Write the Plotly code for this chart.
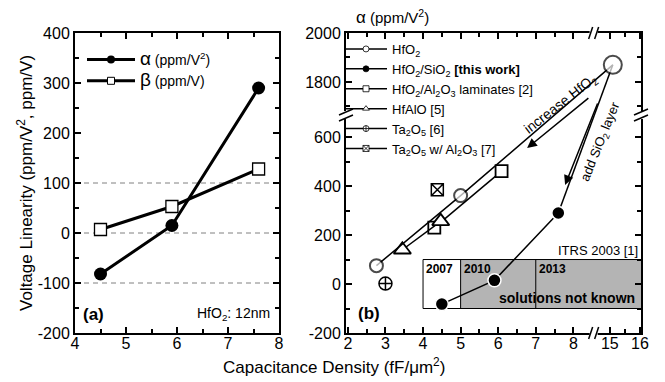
import plotly.graph_objects as go

# ---------------- data ----------------
# panel (a): HfO2 (12 nm) MIM capacitors
cap_density = [4.5, 5.9, 7.6]          # fF/um^2
alpha_vals = [-82, 15, 290]            # ppm/V^2
beta_vals = [7, 53, 128]               # ppm/V

# panel (b): alpha of various dielectrics
hfo2_x = [2.76, 5.0, 15.1]
hfo2_y = [75, 361, 1870]
lam_x = [4.3, 6.09]
lam_y = [230, 461]
hfalo_x = [3.45, 4.47]
hfalo_y = [140, 256]
ta2o5_x = [3.0]
ta2o5_y = [2]
ta2o5al_x = [4.38]
ta2o5al_y = [385]

# ticks
a_xticks = [4, 5, 6, 7, 8]
a_yticks = [-200, -100, 0, 100, 200, 300, 400]
grid_levels = [-100, 0, 100]
b_xticks = [2, 3, 4, 5, 6, 7, 8, 15, 16]
b_xminor = [2.5, 3.5, 4.5, 5.5, 6.5, 7.5, 15.5]
b_yticks = [-200, 0, 200, 400, 600, 1800, 2000]
b_yminor = [-100, 100, 300, 500, 1700, 1900]

# ITRS 2003 roadmap inset
itrs_years = ["2007", "2010", "2013"]
itrs_start = [4, 5, 7]
itrs_band = [-100, 100]


# ---------------- broken axis mapping for panel (b) ----------------
X_BREAK = 8.54
Y_BREAK = 690


def tx(v):
    return v if v < 10 else 8.97 + (v - 15.0) * 0.8


def ty(v):
    return v if v < 1000 else Y_BREAK + (v - 1665)


def txs(a):
    return [tx(v) for v in a]


def tys(a):
    return [ty(v) for v in a]


FONT = "Arial, Liberation Sans, sans-serif"
BLACK = "black"

fig = go.Figure()

# ---------- panel (a) ----------
fig.add_trace(go.Scatter(x=cap_density, y=alpha_vals, mode="lines+markers",
                         line=dict(color=BLACK, width=3),
                         marker=dict(symbol="circle", size=13, color=BLACK),
                         showlegend=False, xaxis="x", yaxis="y"))
fig.add_trace(go.Scatter(x=cap_density, y=beta_vals, mode="lines+markers",
                         line=dict(color=BLACK, width=3),
                         marker=dict(symbol="square", size=12, color="white",
                                     line=dict(color=BLACK, width=1.3)),
                         showlegend=False, xaxis="x", yaxis="y"))
# legend entries (a)
fig.add_trace(go.Scatter(x=[None], y=[None], mode="lines+markers",
                         name='<span style="font-size:19px">α</span> (ppm/V<sup>2</sup>)',
                         line=dict(color=BLACK, width=3),
                         marker=dict(symbol="circle", size=8, color=BLACK),
                         legend="legend", xaxis="x", yaxis="y"))
fig.add_trace(go.Scatter(x=[None], y=[None], mode="lines+markers",
                         name='<span style="font-size:19px">β</span> (ppm/V)',
                         line=dict(color=BLACK, width=3),
                         marker=dict(symbol="square", size=7, color="white",
                                     line=dict(color=BLACK, width=1)),
                         legend="legend", xaxis="x", yaxis="y"))

# ---------- panel (b) ----------
LW = 1.5
# connector HfO2 -> HfO2/SiO2
fig.add_trace(go.Scatter(x=txs([hfo2_x[-1], cap_density[-1]]), y=tys([hfo2_y[-1], alpha_vals[-1]]),
                         mode="lines", line=dict(color=BLACK, width=LW),
                         showlegend=False, xaxis="x2", yaxis="y2"))
fig.add_trace(go.Scatter(x=txs(cap_density), y=tys(alpha_vals), mode="lines+markers",
                         line=dict(color=BLACK, width=LW),
                         marker=dict(symbol="circle", size=13, color=BLACK,
                                     line=dict(color="white", width=1.5)),
                         showlegend=False, xaxis="x2", yaxis="y2"))
fig.add_trace(go.Scatter(x=txs(lam_x), y=tys(lam_y), mode="lines+markers",
                         line=dict(color=BLACK, width=LW),
                         marker=dict(symbol="square", size=12, color="white",
                                     line=dict(color=BLACK, width=1.8)),
                         showlegend=False, xaxis="x2", yaxis="y2"))
fig.add_trace(go.Scatter(x=txs(hfalo_x), y=tys(hfalo_y), mode="lines+markers",
                         line=dict(color=BLACK, width=LW),
                         marker=dict(symbol="triangle-up", size=15, color="white",
                                     line=dict(color=BLACK, width=1.8)),
                         showlegend=False, xaxis="x2", yaxis="y2"))
fig.add_trace(go.Scatter(x=txs(hfo2_x), y=tys(hfo2_y), mode="lines+markers",
                         line=dict(color=BLACK, width=LW),
                         marker=dict(symbol="circle", size=[13, 13, 18], color="white",
                                     line=dict(color=BLACK, width=2)),
                         showlegend=False, xaxis="x2", yaxis="y2"))
fig.add_trace(go.Scatter(x=txs(ta2o5_x), y=tys(ta2o5_y), mode="markers",
                         marker=dict(symbol="circle-cross", size=13, color="white",
                                     line=dict(color=BLACK, width=1.5)),
                         showlegend=False, xaxis="x2", yaxis="y2"))
fig.add_trace(go.Scatter(x=txs(ta2o5al_x), y=tys(ta2o5al_y), mode="markers",
                         marker=dict(symbol="square-x", size=12, color="white",
                                     line=dict(color=BLACK, width=1.5)),
                         showlegend=False, xaxis="x2", yaxis="y2"))

# legend entries (b)
leg_b = [
    ("HfO<sub>2</sub>", "circle", "white"),
    ("HfO<sub>2</sub>/SiO<sub>2</sub> <b>[this work]</b>", "circle", BLACK),
    ("HfO<sub>2</sub>/Al<sub>2</sub>O<sub>3</sub> laminates [2]", "square", "white"),
    ("HfAlO [5]", "triangle-up", "white"),
    ("Ta<sub>2</sub>O<sub>5</sub> [6]", "circle-cross", "white"),
    ("Ta<sub>2</sub>O<sub>5</sub> w/ Al<sub>2</sub>O<sub>3</sub> [7]", "square-x", "white"),
]
for name, sym, col in leg_b:
    fig.add_trace(go.Scatter(x=[None], y=[None], mode="lines+markers", name=name,
                             line=dict(color=BLACK, width=1.5),
                             marker=dict(symbol=sym, size=6, color=col,
                                         line=dict(color=BLACK, width=0.8)),
                             legend="legend2", xaxis="x2", yaxis="y2"))

# ---------------- axes ----------------
W, H = 665, 382
ydom = [1 - 333 / H, 1 - 33 / H]
axis_common = dict(showline=True, linewidth=2, linecolor=BLACK, mirror="ticks",
                   ticks="inside", ticklen=6, tickwidth=1.5, tickcolor=BLACK,
                   showgrid=False, zeroline=False,
                   tickfont=dict(family=FONT, size=16, color=BLACK))
xtick_std = dict(ticklabelstandoff=-5)

fig.update_layout(
    xaxis=dict(domain=[75 / W, 279 / W], range=[4, 8], tickvals=a_xticks,
               ticktext=[str(v) for v in a_xticks],
               minor=dict(dtick=0.5, ticks="inside", ticklen=4, tickcolor=BLACK, tickwidth=1.5),
               anchor="y", **axis_common, **xtick_std),
    yaxis=dict(domain=ydom, range=[-200, 400], tickvals=a_yticks,
               ticktext=[str(v) for v in a_yticks],
               minor=dict(dtick=50, ticks="inside", ticklen=4, tickcolor=BLACK, tickwidth=1.5),
               anchor="x", **axis_common),
    xaxis2=dict(domain=[346 / W, 641 / W], range=[1.95, 9.8], tickvals=txs(b_xticks),
                ticktext=[str(v) for v in b_xticks],
                minor=dict(tickvals=txs(b_xminor), ticks="inside", ticklen=4, tickcolor=BLACK, tickwidth=1.5),
                anchor="y2", **axis_common, **xtick_std),
    yaxis2=dict(domain=ydom, range=[-200, ty(2000)], tickvals=tys(b_yticks),
                ticktext=[str(v) for v in b_yticks],
                minor=dict(tickvals=tys(b_yminor), ticks="inside", ticklen=4, tickcolor=BLACK, tickwidth=1.5),
                anchor="x2", **axis_common),
)

# ---------------- shapes ----------------
shapes = []
for lv in grid_levels:
    shapes.append(dict(type="line", xref="x domain", x0=0, x1=1, yref="y", y0=lv, y1=lv,
                       line=dict(color="#808080", width=1, dash="5px,4px"), layer="below"))

# ITRS inset
box_top, box_bot = itrs_band[1], itrs_band[0]
shapes.append(dict(type="rect", xref="x2", x0=itrs_start[1], x1=tx(16) + 0.1, yref="y2",
                   y0=box_bot, y1=box_top, fillcolor="#b4b4b4", line=dict(width=0), layer="below"))
shapes.append(dict(type="rect", xref="x2", x0=itrs_start[0], x1=tx(16) + 0.1, yref="y2",
                   y0=box_bot, y1=box_top, fillcolor="rgba(0,0,0,0)",
                   line=dict(color=BLACK, width=1), layer="below"))
for xs in itrs_start[1:]:
    shapes.append(dict(type="line", xref="x2", x0=xs, x1=xs, yref="y2", y0=box_bot, y1=box_top,
                       line=dict(color=BLACK, width=1), layer="below"))


# axis break marks
def xbreak(yanchor):
    out = [dict(type="rect", xref="x2", xsizemode="pixel", xanchor=X_BREAK, x0=-4, x1=4,
                yref="y2 domain", ysizemode="pixel", yanchor=yanchor, y0=-2, y1=2,
                fillcolor="white", line=dict(width=0), layer="above")]
    for off in (-3, 3):
        out.append(dict(type="line", xref="x2", xsizemode="pixel", xanchor=X_BREAK,
                        x0=off - 2, x1=off + 2, yref="y2 domain", ysizemode="pixel",
                        yanchor=yanchor, y0=-6, y1=6, line=dict(color=BLACK, width=1.5),
                        layer="above"))
    return out


def ybreak(xanchor):
    out = [dict(type="rect", xref="x2 domain", xsizemode="pixel", xanchor=xanchor, x0=-2, x1=2,
                yref="y2", ysizemode="pixel", yanchor=Y_BREAK, y0=-4, y1=4,
                fillcolor="white", line=dict(width=0), layer="above")]
    for off in (-3, 3):
        out.append(dict(type="line", xref="x2 domain", xsizemode="pixel", xanchor=xanchor,
                        x0=-7, x1=7, yref="y2", ysizemode="pixel",
                        yanchor=Y_BREAK, y0=off - 3, y1=off + 3, line=dict(color=BLACK, width=1.5),
                        layer="above"))
    return out


shapes += xbreak(0) + xbreak(1) + ybreak(0) + ybreak(1)

# ---------------- annotations ----------------
ann = []
ann.append(dict(text="Voltage Linearity (ppm/V<sup>2</sup>, ppm/V)", xref="paper", yref="paper",
                x=25 / W, y=1 - 183 / H, xanchor="center", yanchor="middle", textangle=-90,
                showarrow=False, font=dict(family=FONT, size=17, color=BLACK)))
ann.append(dict(text="Capacitance Density (fF/μm<sup>2</sup>)", xref="paper", yref="paper",
                x=334 / W, y=1 - 366 / H, xanchor="center", yanchor="middle", showarrow=False,
                font=dict(family=FONT, size=17, color=BLACK)))
ann.append(dict(text="<b>(a)</b>", xref="paper", yref="paper", x=81 / W, y=1 - 314 / H,
                xanchor="left", yanchor="middle", showarrow=False,
                font=dict(family=FONT, size=17, color=BLACK)))
ann.append(dict(text="HfO<sub>2</sub>: 12nm", xref="paper", yref="paper", x=272 / W, y=1 - 314 / H,
                xanchor="right", yanchor="middle", showarrow=False,
                font=dict(family=FONT, size=14, color=BLACK)))
ann.append(dict(text="<b>(b)</b>", xref="paper", yref="paper", x=356 / W, y=1 - 313 / H,
                xanchor="left", yanchor="middle", showarrow=False,
                font=dict(family=FONT, size=17, color=BLACK)))
ann.append(dict(text='<span style="font-size:17px">α</span> (ppm/V<sup>2</sup>)', xref="paper",
                yref="paper", x=354 / W, y=1 - 17 / H, xanchor="left", yanchor="middle",
                showarrow=False, font=dict(family=FONT, size=15, color=BLACK)))
ann.append(dict(text="ITRS 2003 [1]", xref="x2 domain", yref="y2", x=0.995, y=box_top,
                xanchor="right", yanchor="bottom", showarrow=False,
                font=dict(family=FONT, size=13, color=BLACK)))
for yr, xs in zip(itrs_years, itrs_start):
    ann.append(dict(text="<b>%s</b>" % yr, xref="x2", yref="y2", x=xs, y=box_top,
                    xanchor="left", yanchor="top", showarrow=False, xshift=1,
                    font=dict(family=FONT, size=12, color=BLACK)))
ann.append(dict(text="<b>solutions not known</b>", xref="x2 domain", yref="y2", x=0.985, y=-57,
                xanchor="right", yanchor="middle", showarrow=False,
                font=dict(family=FONT, size=14, color=BLACK)))
# arrows
ann.append(dict(x=6.77, y=555, ax=8.44, ay=764, xref="x2", yref="y2", axref="x2", ayref="y2",
                text="", showarrow=True, arrowhead=2, arrowsize=1.3, arrowwidth=1.5, arrowcolor=BLACK))
ann.append(dict(x=7.78, y=404, ax=8.66, ay=743, xref="x2", yref="y2", axref="x2", ayref="y2",
                text="", showarrow=True, arrowhead=2, arrowsize=1.3, arrowwidth=1.5, arrowcolor=BLACK))
ann.append(dict(text="increase HfO<sub>2</sub>", xref="x2", yref="y2", x=7.67, y=735, textangle=-38,
                showarrow=False, font=dict(family=FONT, size=14, color=BLACK)))
ann.append(dict(text="add SiO<sub>2</sub> layer", xref="x2", yref="y2", x=8.74, y=580, textangle=-68,
                showarrow=False, font=dict(family=FONT, size=13, color=BLACK)))

fig.update_layout(
    width=W, height=H, margin=dict(l=0, r=0, t=0, b=0, autoexpand=False),
    paper_bgcolor="white", plot_bgcolor="white",
    font=dict(family=FONT, color=BLACK),
    shapes=shapes, annotations=ann,
    legend=dict(x=82 / W, y=1 - 44 / H, xanchor="left", yanchor="top", bgcolor="rgba(0,0,0,0)",
                font=dict(family=FONT, size=14, color=BLACK), itemwidth=48,
                tracegroupgap=0),
    legend2=dict(x=340 / W, y=1 - 34 / H, xanchor="left", yanchor="top", bgcolor="rgba(0,0,0,0)",
                 font=dict(family=FONT, size=13, color=BLACK), itemwidth=42,
                 tracegroupgap=0),
)

fig.write_html("out.html", config={"responsive": False, "displayModeBar": False},
               post_script="document.body.style.margin='0px';document.body.style.overflow='hidden';")
